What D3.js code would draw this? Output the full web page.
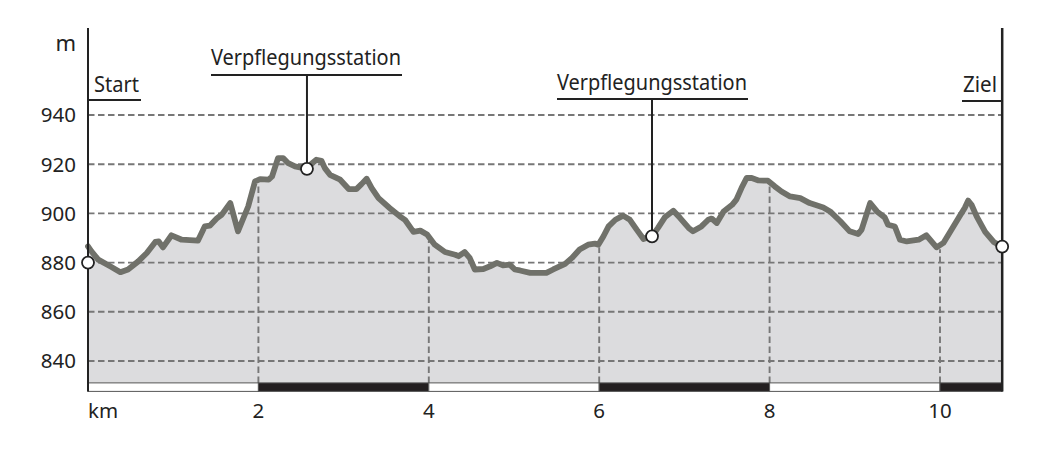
<!DOCTYPE html>
<html><head><meta charset="utf-8">
<script src="https://cdn.jsdelivr.net/npm/d3@7"></script>
<style>
html,body{margin:0;padding:0;background:#fff;}
svg text{font-family:"Noto Sans",Lato,sans-serif;fill:#222;}
</style></head>
<body>
<svg id="chart" width="1039" height="449"></svg>
<script>
// Distance (km) and elevation (m) along the route
const km = [0,0.04,0.12,0.26,0.38,0.47,0.59,0.69,0.79,0.83,0.88,0.98,1.10,1.29,1.37,1.43,1.51,1.57,1.67,1.76,1.88,1.96,2.02,2.12,2.16,2.23,2.29,2.35,2.43,2.57,2.63,2.68,2.74,2.78,2.84,2.96,3.06,3.15,3.21,3.27,3.33,3.41,3.54,3.66,3.72,3.82,3.90,3.98,4.07,4.19,4.31,4.35,4.42,4.48,4.54,4.64,4.72,4.80,4.87,4.95,5.01,5.07,5.19,5.38,5.46,5.60,5.68,5.77,5.87,5.95,5.99,6.05,6.11,6.19,6.28,6.36,6.44,6.52,6.62,6.69,6.77,6.87,6.95,7.05,7.10,7.20,7.28,7.32,7.38,7.46,7.56,7.61,7.67,7.73,7.79,7.87,7.98,8.06,8.14,8.24,8.36,8.47,8.63,8.71,8.83,8.94,9.04,9.08,9.18,9.26,9.35,9.39,9.47,9.53,9.61,9.75,9.84,9.90,9.96,10.04,10.12,10.23,10.29,10.33,10.37,10.43,10.53,10.63,10.73];
const elevation = [886.6,884.6,881.2,878.5,876.1,877.2,880.5,883.9,888.4,888.6,886.2,891.1,889.3,888.9,894.7,895.0,897.9,899.5,904.2,892.7,902.8,913.0,913.9,913.7,915.0,922.5,922.5,920.4,919.1,918.1,920.4,921.8,921.4,918.4,915.7,913.7,909.9,909.9,911.9,914.1,910.3,906.2,902.2,898.8,897.4,892.5,893.0,891.4,887.3,884.3,883.2,882.6,884.3,881.9,877.2,877.4,878.5,879.9,878.9,879.2,877.2,876.8,875.8,875.8,877.2,879.5,881.9,885.3,887.3,887.7,887.3,890.7,894.7,897.4,899.1,897.4,893.4,889.6,890.7,894.1,898.4,901.1,898.1,894.1,892.7,894.7,897.4,897.9,896.1,900.8,903.5,905.6,910.3,914.4,914.4,913.4,913.3,911.0,908.9,906.9,906.2,904.2,902.4,900.8,896.8,892.7,891.6,893.4,904.2,900.8,898.4,895.4,894.7,889.3,888.6,889.3,891.1,888.6,886.2,888.0,892.5,898.8,902.2,905.2,903.5,898.8,892.5,888.4,886.5];

const yTicks = [840,860,880,900,920,940];
const xTicks = [2,4,6,8,10];
const xTickLabels = ["km","2","4","6","8","10"];
const kmEnd = 10.73;
const segmentStarts = [0,2,4,6,8,10];     // 2-km stripes of the distance bar
const segmentFill = ["white","black","white","black","white","black"];

const markerNames = ["Start","Verpflegungsstation","Verpflegungsstation","Ziel"];
const markerKm = [0,2.57,6.62,10.73];
const markerElev = [880,918.1,890.7,886.5];

const svg = d3.select("#chart");
const x = d3.scaleLinear().domain([0,10]).range([88,940]);
const y = d3.scaleLinear().domain([840,940]).range([361,115]);
const yBase = 831.1;     // bottom of profile area
const yTop = 975.4;      // top of axis lines

const data = km.map((k,i)=>({k, e:elevation[i]}));
const elevAt = k => {
  const i = d3.bisector(d=>d.k).left(data,k);
  if (i<=0) return data[0].e;
  if (i>=data.length) return data[data.length-1].e;
  const a=data[i-1], b=data[i];
  return a.e + (b.e-a.e)*(k-a.k)/(b.k-a.k);
};

// area
svg.append("path").datum(data)
  .attr("d", d3.area().x(d=>x(d.k)).y0(y(yBase)).y1(d=>y(d.e)))
  .attr("fill","#dcdcde");

// horizontal grid
svg.append("g").selectAll("line").data(yTicks).join("line")
  .attr("x1",x(0)).attr("x2",x(kmEnd))
  .attr("y1",d=>y(d)).attr("y2",d=>y(d))
  .attr("stroke","#777").attr("stroke-width",1.9).attr("stroke-dasharray","6.5,3.5");

// vertical grid under the profile
svg.append("g").selectAll("line").data(xTicks).join("line")
  .attr("x1",d=>x(d)).attr("x2",d=>x(d))
  .attr("y1",y(yBase)).attr("y2",d=>y(elevAt(d))+4)
  .attr("stroke","#777").attr("stroke-width",1.9).attr("stroke-dasharray","6.5,3.5");

// profile line
svg.append("path").datum(data)
  .attr("d", d3.line().x(d=>x(d.k)).y(d=>y(d.e)))
  .attr("fill","none").attr("stroke","#70716a").attr("stroke-width",5.8)
  .attr("stroke-linejoin","round").attr("stroke-linecap","round");

// distance bar
const barTop = y(yBase), barH = 8.5;
svg.append("g").selectAll("rect").data(segmentStarts).join("rect")
  .attr("x",d=>x(d)).attr("y",barTop)
  .attr("width",(d)=>x(Math.min(d+2,kmEnd))-x(d)).attr("height",barH)
  .attr("fill",(d,i)=>segmentFill[i]==="black"?"#231f20":"#fff")
  .attr("stroke","#555").attr("stroke-width",1);

// axis lines
svg.append("line").attr("x1",x(0)).attr("x2",x(0)).attr("y1",y(yTop)).attr("y2",barTop+barH)
  .attr("stroke","#222").attr("stroke-width",2);
svg.append("line").attr("x1",x(kmEnd)).attr("x2",x(kmEnd)).attr("y1",y(yTop)).attr("y2",barTop+barH)
  .attr("stroke","#222").attr("stroke-width",2.5);

// y tick labels
svg.append("g").selectAll("text").data(yTicks).join("text")
  .attr("x",76).attr("y",d=>y(d)).attr("dy","0.36em")
  .attr("text-anchor","end").attr("font-size",20.5).text(d=>d);
svg.append("text").attr("x",76).attr("y",51).attr("text-anchor","end").attr("font-size",22).text("m");

// x tick labels
const xLabelPos = [0].concat(xTicks);
svg.append("g").selectAll("text").data(xLabelPos).join("text")
  .attr("x",d=>x(d)).attr("y",418)
  .attr("text-anchor",(d,i)=>i===0?"start":"middle")
  .attr("font-size",20.5).text((d,i)=>xTickLabels[i]);

// annotations
const ann = [
  {name:markerNames[0], x1:x(0), x2:141, ul:100, base:92, w:45, stem:false},
  {name:markerNames[1], x1:211, x2:402, ul:75, base:65, w:190, stem:true},
  {name:markerNames[2], x1:557, x2:748, ul:99, base:89.5, w:190, stem:true},
  {name:markerNames[3], x1:962, x2:x(kmEnd), ul:101, base:92, w:34, stem:false}
];
ann.forEach((a,i)=>{
  const tx = i===0 ? a.x1+6 : (i===3 ? a.x1+1 : a.x1);
  svg.append("text").attr("x",tx).attr("y",a.base).attr("font-size",22.5)
    .attr("textLength",a.w).attr("lengthAdjust","spacingAndGlyphs").text(a.name);
  svg.append("line").attr("x1",a.x1).attr("x2",a.x2).attr("y1",a.ul).attr("y2",a.ul)
    .attr("stroke","#222").attr("stroke-width",2);
  if (a.stem) {
    svg.append("line").attr("x1",x(markerKm[i])).attr("x2",x(markerKm[i]))
      .attr("y1",a.ul).attr("y2",y(markerElev[i]))
      .attr("stroke","#222").attr("stroke-width",2);
  }
});

// markers
svg.append("g").selectAll("circle").data(markerKm).join("circle")
  .attr("cx",d=>x(d)).attr("cy",(d,i)=>y(markerElev[i])).attr("r",6)
  .attr("fill","#fff").attr("stroke","#222").attr("stroke-width",1.8);
</script>
</body></html>
